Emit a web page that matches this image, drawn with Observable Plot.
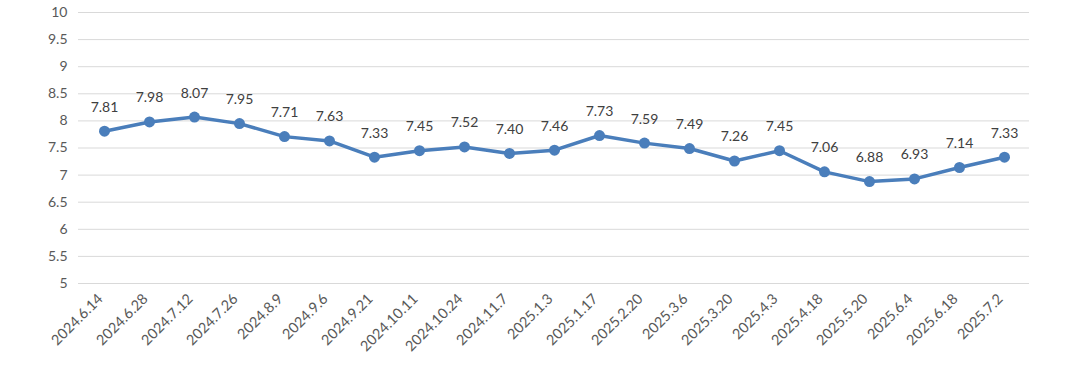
<!DOCTYPE html>
<html>
<head>
<meta charset="utf-8">
<script src="https://cdn.jsdelivr.net/npm/d3@7"></script>
<script src="https://cdn.jsdelivr.net/npm/@observablehq/plot@0.6"></script>
<style>
  html, body { margin: 0; padding: 0; background: #fff; }
  #chart svg { display: block; }
</style>
</head>
<body>
<div id="chart"></div>
<script>
const dates = ["2024.6.14","2024.6.28","2024.7.12","2024.7.26","2024.8.9","2024.9.6","2024.9.21","2024.10.11","2024.10.24","2024.11.7","2025.1.3","2025.1.17","2025.2.20","2025.3.6","2025.3.20","2025.4.3","2025.4.18","2025.5.20","2025.6.4","2025.6.18","2025.7.2"];
const values = [7.81,7.98,8.07,7.95,7.71,7.63,7.33,7.45,7.52,7.40,7.46,7.73,7.59,7.49,7.26,7.45,7.06,6.88,6.93,7.14,7.33];
const yTicks = [5,5.5,6,6.5,7,7.5,8,8.5,9,9.5,10];

const data = dates.map((d, i) => ({date: d, value: values[i]}));
const font = "Lato, 'Open Sans', sans-serif";

const chart = Plot.plot({
  width: 1080,
  height: 365,
  marginLeft: 78,
  marginRight: 51,
  marginTop: 12,
  marginBottom: 82,
  style: {fontFamily: font, fontSize: "14px", background: "#fff"},
  x: {type: "point", domain: dates, padding: 0.5, label: null},
  y: {domain: [5, 10], label: null},
  marks: [
    Plot.gridY(yTicks, {stroke: "#d9d9d9", strokeOpacity: 1, strokeWidth: 1}),
    Plot.axisY(yTicks, {tickSize: 0, tickPadding: 11, fill: "#595959", fontSize: 14, tickFormat: d => String(d), label: null}),
    Plot.axisX({tickSize: 0, tickRotate: -45, tickPadding: 6, dx: -4, dy: 7, fill: "#595959", fontSize: 14.5, label: null}),
    Plot.line(data, {x: "date", y: "value", stroke: "#4a7ebb", strokeWidth: 3.5}),
    Plot.dot(data, {x: "date", y: "value", r: 5.5, fill: "#4a7ebb", stroke: "none"}),
    Plot.text(data, {x: "date", y: "value", text: d => d.value.toFixed(2), dy: -24, fill: "#404040", fontSize: 14})
  ]
});
document.getElementById("chart").appendChild(chart);
</script>
</body>
</html>
